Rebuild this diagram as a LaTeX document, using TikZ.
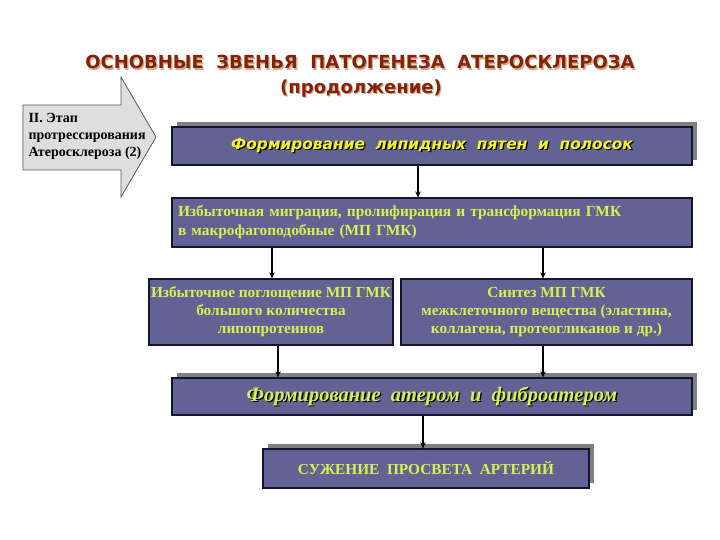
\documentclass[tikz,border=0pt]{standalone}
\usepackage{fontspec}
\setmainfont{Liberation Serif}
\newfontfamily\titlefont{DejaVu Sans}
\usetikzlibrary{arrows.meta,shadows}
\definecolor{boxfill}{RGB}{98,98,148}
\definecolor{boxline}{RGB}{20,20,45}
\definecolor{txtgreen}{RGB}{214,242,80}
\definecolor{txtyellow}{RGB}{245,245,40}
\definecolor{titlered}{RGB}{130,35,10}
\definecolor{titleshadow}{RGB}{215,170,140}
\definecolor{arrowfill}{RGB}{222,222,222}
\definecolor{arrowline}{RGB}{90,90,90}
\definecolor{shadowgrey}{RGB}{128,128,128}
\newcommand\shtxt[2]{\leavevmode\rlap{\kern1.3pt\raisebox{-1.3pt}{\color{#1}#2}}#2}
\tikzset{
  box/.style={draw=boxline, line width=1.2pt, fill=boxfill, inner sep=0pt,
    text=txtgreen, font=\bfseries\fontsize{15.3}{18}\selectfont, align=center},
  shad/.style={general shadow={fill=shadowgrey, shadow xshift=5pt, shadow yshift=5pt}},
  conn/.style={line width=1.7pt, -{Stealth[length=6pt,width=5.5pt]}},
}
\begin{document}
\begin{tikzpicture}[x=1pt,y=-1pt]
\useasboundingbox (0,0) rectangle (720,540);
\fill[white] (0,0) rectangle (720,540);
% title
\node[text=titlered, font=\titlefont\bfseries\fontsize{18}{22}\selectfont] (title1) at (360,63)
  {\shtxt{titleshadow}{ОСНОВНЫЕ\ \ ЗВЕНЬЯ\ \ ПАТОГЕНЕЗА\ \ АТЕРОСКЛЕРОЗА}};
\node[text=titlered, font=\titlefont\bfseries\fontsize{18}{22}\selectfont] (title2) at (361,89)
  {\shtxt{titleshadow}{(продолжение)}};
% block arrow
\draw[fill=arrowfill, draw=arrowline, line width=0.8pt]
  (23,105) -- (121,105) -- (121,77) -- (156,137) -- (121,197) -- (121,170) -- (23,170) -- cycle;
\node[anchor=west, align=left, font=\bfseries\fontsize{14}{17}\selectfont] (stage) at (25,136)
  {II. Этап\\протрессирования\\Атеросклероза (2)};
% boxes
\node[box, shad, minimum width=520pt, minimum height=38pt, text=txtyellow,
  font=\titlefont\bfseries\itshape\fontsize{15.4}{18}\selectfont] (b1) at (432,146)
  {\shtxt{black}{Формирование\ \ липидных\ \ пятен\ \ и\ \ полосок}};
\node[box, minimum width=520pt, minimum height=49pt, text width=508pt, align=left,
  font=\bfseries\fontsize{15.4}{19}\selectfont] (b2) at (432,222.5)
  {Избыточная миграция, пролифирация и трансформация ГМК\\в макрофагоподобные (МП ГМК)};
\node[box, minimum width=244pt, minimum height=66pt] (b3) at (271,312)
  {Избыточное поглощение МП ГМК\\большого количества\\липопротеинов};
\node[box, minimum width=291pt, minimum height=66pt] (b4) at (546.5,312)
  {Синтез МП ГМК\\межклеточного вещества (эластина,\\коллагена, протеогликанов и др.)};
\node[box, shad, minimum width=520pt, minimum height=37pt,
  font=\bfseries\itshape\fontsize{20.5}{24}\selectfont] (b5) at (432,396.5)
  {\shtxt{black}{Формирование\ \ атером\ \ и\ \ фиброатером}};
\node[box, shad, minimum width=326pt, minimum height=39pt] (b6) at (426,468.5)
  {СУЖЕНИЕ\ \ ПРОСВЕТА\ \ АРТЕРИЙ};
% connectors
\draw[conn] ([xshift=-14pt]b1.south) -- ([xshift=-14pt]b2.north);
\draw[conn] ([xshift=-160pt]b2.south) -- ([xshift=1pt]b3.north);
\draw[conn] ([xshift=111pt]b2.south) -- ([xshift=-3.5pt]b4.north);
\draw[conn] ([xshift=7pt]b3.south) -- ([xshift=-154pt]b5.north);
\draw[conn] ([xshift=-3.5pt]b4.south) -- ([xshift=111pt]b5.north);
\draw[conn] ([xshift=-9pt]b5.south) -- ([xshift=-3pt]b6.north);
\end{tikzpicture}
\end{document}
